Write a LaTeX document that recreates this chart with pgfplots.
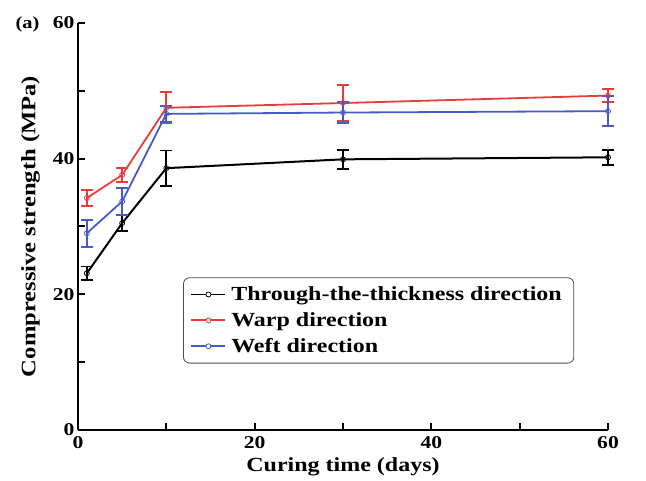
\documentclass[border=0pt]{standalone}
\usepackage{pgfplots}
\pgfplotsset{compat=1.18}
\usepackage{fontspec}
\setmainfont[FakeStretch=1.2]{Liberation Serif}
\definecolor{myred}{RGB}{232,60,60}
\definecolor{myblue}{RGB}{70,90,200}
\begin{document}
\begin{tikzpicture}
\begin{axis}[
  name=ax,
  scale only axis,
  width=530pt, height=407pt,
  xmin=0, xmax=60, ymin=0, ymax=60,
  axis lines*=left,
  axis line style={line width=2.2pt, -},
  xtick={0,20,40,60}, minor xtick={10,30,50},
  ytick={0,20,40,60}, minor ytick={10,30,50},
  tick style={line width=2pt, black},
  major tick length=7pt, minor tick length=7pt,
  tick align=inside,
  ticklabel style={font=\fontsize{18}{18}\selectfont\bfseries},
  xticklabel style={yshift=-3pt},
  /pgf/number format/assume math mode=true,
  xlabel={\textbf{Curing time (days)}},
  ylabel={\textbf{Compressive strength (MPa)}},
  xlabel style={font=\fontsize{20}{20}\selectfont, yshift=-2pt},
  ylabel style={font=\fontsize{20.5}{20.5}\selectfont, yshift=6pt},
  legend style={at={(axis cs:11.9,22.5)}, anchor=north west,
    draw=black!70, line width=0.8pt, rounded corners=6pt,
    font=\fontsize{20}{20}\selectfont\bfseries,
    inner xsep=7pt, inner ysep=7pt, row sep=6.5pt,
    nodes={inner xsep=5pt}},
  legend image code/.code={\draw[#1, line width=1.8pt] (0pt,0pt) -- (34pt,0pt);
     \draw[#1, line width=0.8pt, fill=white] (17pt,0pt) circle (2.5pt);},
  legend cell align=left,
  clip=false,
]
\addplot+[black, line width=2pt, mark=o, mark size=2.5pt, mark options={line width=0.8pt,fill=white},
  error bars/.cd, y dir=both, y explicit, error bar style={line width=1.8pt}, error mark options={rotate=90, mark size=6pt, line width=1.8pt}]
coordinates {
(1,23.1) +- (0,1.0)
(5,30.5) +- (0,1.2)
(10,38.6) +- (0,2.6)
(30,39.9) +- (0,1.4)
(60,40.2) +- (0,1.1)
};
\addlegendentry{Through-the-thickness direction}
\addplot+[myred, line width=1.8pt, mark=o, mark size=2.5pt, mark options={line width=0.8pt,fill=white},
  error bars/.cd, y dir=both, y explicit, error bar style={line width=1.8pt}, error mark options={rotate=90, mark size=6pt, line width=1.8pt}]
coordinates {
(1,34.2) +- (0,1.2)
(5,37.6) +- (0,1.0)
(10,47.5) +- (0,2.3)
(30,48.2) +- (0,2.7)
(60,49.3) +- (0,1.0)
};
\addlegendentry{Warp direction}
\addplot+[myblue, line width=1.8pt, mark=o, mark size=2.5pt, mark options={line width=0.8pt,fill=white},
  error bars/.cd, y dir=both, y explicit, error bar style={line width=1.8pt}, error mark options={rotate=90, mark size=6pt, line width=1.8pt}]
coordinates {
(1,29.0) +- (0,2.0)
(5,33.7) +- (0,2.0)
(10,46.6) +- (0,1.2)
(30,46.8) +- (0,1.6)
(60,47.0) +- (0,2.2)
};
\addlegendentry{Weft direction}
\end{axis}
\node[font=\fontsize{17}{17}\selectfont\bfseries, anchor=north west] at ([xshift=-66pt,yshift=10pt]ax.north west) {(a)};
\pgfresetboundingbox
\path[use as bounding box] ([xshift=-78pt,yshift=-51pt]ax.south west) rectangle ([xshift=38pt,yshift=23pt]ax.north east);
\end{tikzpicture}
\end{document}
